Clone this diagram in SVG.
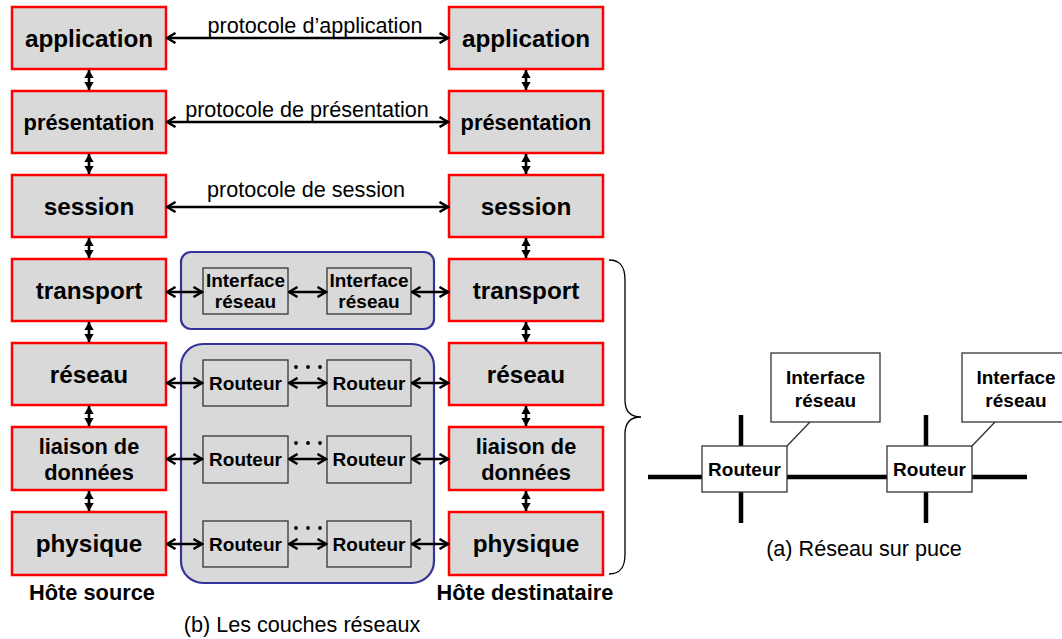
<svg xmlns="http://www.w3.org/2000/svg" width="1062" height="639" viewBox="0 0 1062 639">
  <defs>
    <style>
      .layer { fill: #d9d9d9; stroke: #ff0000; stroke-width: 2.5; }
      .zone { fill: #d9d9d9; stroke: #333399; stroke-width: 2.2; }
      .unit { fill: #d9d9d9; stroke: #333333; stroke-width: 1.3; }
      .unitw { fill: #ffffff; stroke: #333333; stroke-width: 1.3; }
      .lbl { font-family: "Liberation Sans", Arial, sans-serif; font-weight: bold; fill: #000; text-anchor: middle; }
      .big { font-size: 24.3px; }
      .mid { font-size: 21.8px; }
      .sm { font-size: 19px; }
      .cap { font-family: "Liberation Sans", Arial, sans-serif; font-size: 21.6px; fill: #000; text-anchor: middle; }
      .dbl { stroke: #000; stroke-width: 2.6; fill: none; marker-start: url(#chev); marker-end: url(#chev); }
      .vdbl { stroke: #000; stroke-width: 2.6; fill: none; marker-start: url(#tri); marker-end: url(#tri); }
      .wire { stroke: #000; stroke-width: 4.5; fill: none; }
      .lead { stroke: #333333; stroke-width: 1.3; fill: none; }
    </style>
    <marker id="chev" markerUnits="userSpaceOnUse" viewBox="0 0 12 12" markerWidth="12" markerHeight="12" refX="10.5" refY="6" orient="auto-start-reverse">
      <path d="M2,1 L10.5,6 L2,11" fill="none" stroke="#000" stroke-width="2.5"/>
    </marker>
    <marker id="tri" markerUnits="userSpaceOnUse" viewBox="0 0 8 10" markerWidth="8" markerHeight="10" refX="8" refY="5" orient="auto-start-reverse">
      <path d="M0,0.3 L8,5 L0,9.7 z" fill="#000"/>
    </marker>
  </defs>

  <!-- network zones -->
  <g id="zone-interfaces">
    <rect class="zone" x="181" y="252" width="253" height="77" rx="10"/>
  </g>
  <g id="zone-routeurs">
    <rect class="zone" x="181" y="344" width="253" height="239" rx="22"/>
  </g>

  <!-- source host stack -->
  <g id="src-application"><rect class="layer" x="12" y="7" width="154" height="62"/><text class="lbl big" x="89" y="47">application</text></g>
  <g id="src-presentation"><rect class="layer" x="12" y="91" width="154" height="62"/><text class="lbl mid" x="89" y="130">présentation</text></g>
  <g id="src-session"><rect class="layer" x="12" y="175" width="154" height="62"/><text class="lbl big" x="89" y="215">session</text></g>
  <g id="src-transport"><rect class="layer" x="12" y="259" width="154" height="62"/><text class="lbl big" x="89" y="299">transport</text></g>
  <g id="src-reseau"><rect class="layer" x="12" y="343" width="154" height="62"/><text class="lbl big" x="89" y="383">réseau</text></g>
  <g id="src-liaison"><rect class="layer" x="12" y="427" width="154" height="63"/><text class="lbl mid" x="89" y="454">liaison de</text><text class="lbl mid" x="89" y="480">données</text></g>
  <g id="src-physique"><rect class="layer" x="12" y="512" width="154" height="63"/><text class="lbl big" x="89" y="552">physique</text></g>

  <!-- destination host stack -->
  <g id="dst-application"><rect class="layer" x="449" y="7" width="154" height="62"/><text class="lbl big" x="526" y="47">application</text></g>
  <g id="dst-presentation"><rect class="layer" x="449" y="91" width="154" height="62"/><text class="lbl mid" x="526" y="130">présentation</text></g>
  <g id="dst-session"><rect class="layer" x="449" y="175" width="154" height="62"/><text class="lbl big" x="526" y="215">session</text></g>
  <g id="dst-transport"><rect class="layer" x="449" y="259" width="154" height="62"/><text class="lbl big" x="526" y="299">transport</text></g>
  <g id="dst-reseau"><rect class="layer" x="449" y="343" width="154" height="62"/><text class="lbl big" x="526" y="383">réseau</text></g>
  <g id="dst-liaison"><rect class="layer" x="449" y="427" width="154" height="63"/><text class="lbl mid" x="526" y="454">liaison de</text><text class="lbl mid" x="526" y="480">données</text></g>
  <g id="dst-physique"><rect class="layer" x="449" y="512" width="154" height="63"/><text class="lbl big" x="526" y="552">physique</text></g>

  <!-- interfaces and routers -->
  <g id="if-1"><rect class="unit" x="203" y="268" width="85" height="46"/><text class="lbl sm" x="245.5" y="287">Interface</text><text class="lbl sm" x="245.5" y="308">réseau</text></g>
  <g id="if-2"><rect class="unit" x="327" y="268" width="84" height="46"/><text class="lbl sm" x="369" y="287">Interface</text><text class="lbl sm" x="369" y="308">réseau</text></g>
  <g id="rt-1a"><rect class="unit" x="203" y="360" width="85" height="46"/><text class="lbl sm" x="245.5" y="390">Routeur</text></g>
  <g id="rt-1b"><rect class="unit" x="327" y="360" width="84" height="46"/><text class="lbl sm" x="369" y="390">Routeur</text></g>
  <g id="rt-2a"><rect class="unit" x="203" y="436" width="85" height="47"/><text class="lbl sm" x="245.5" y="466">Routeur</text></g>
  <g id="rt-2b"><rect class="unit" x="327" y="436" width="84" height="47"/><text class="lbl sm" x="369" y="466">Routeur</text></g>
  <g id="rt-3a"><rect class="unit" x="203" y="521" width="85" height="46"/><text class="lbl sm" x="245.5" y="551">Routeur</text></g>
  <g id="rt-3b"><rect class="unit" x="327" y="521" width="84" height="46"/><text class="lbl sm" x="369" y="551">Routeur</text></g>

  <!-- ellipsis dots between routers -->
  <g id="dots" fill="#000">
    <circle cx="296" cy="367" r="1.9"/><circle cx="308" cy="367" r="1.9"/><circle cx="320" cy="367" r="1.9"/>
    <circle cx="296" cy="443" r="1.9"/><circle cx="308" cy="443" r="1.9"/><circle cx="320" cy="443" r="1.9"/>
    <circle cx="296" cy="528" r="1.9"/><circle cx="308" cy="528" r="1.9"/><circle cx="320" cy="528" r="1.9"/>
  </g>

  <!-- connectors -->
  <g id="connectors">
    <line class="dbl" x1="167" y1="38" x2="448" y2="38"/>
    <line class="dbl" x1="167" y1="122" x2="448" y2="122"/>
    <line class="dbl" x1="167" y1="207" x2="448" y2="207"/>

    <line class="vdbl" x1="89" y1="70" x2="89" y2="90"/>
    <line class="vdbl" x1="89" y1="154" x2="89" y2="174"/>
    <line class="vdbl" x1="89" y1="238" x2="89" y2="258"/>
    <line class="vdbl" x1="89" y1="322" x2="89" y2="342"/>
    <line class="vdbl" x1="89" y1="406" x2="89" y2="426"/>
    <line class="vdbl" x1="89" y1="491" x2="89" y2="511"/>
    <line class="vdbl" x1="526" y1="70" x2="526" y2="90"/>
    <line class="vdbl" x1="526" y1="154" x2="526" y2="174"/>
    <line class="vdbl" x1="526" y1="238" x2="526" y2="258"/>
    <line class="vdbl" x1="526" y1="322" x2="526" y2="342"/>
    <line class="vdbl" x1="526" y1="406" x2="526" y2="426"/>
    <line class="vdbl" x1="526" y1="491" x2="526" y2="511"/>

    <line class="dbl" x1="167" y1="292" x2="202" y2="292"/>
    <line class="dbl" x1="289" y1="292" x2="326" y2="292"/>
    <line class="dbl" x1="412" y1="292" x2="448" y2="292"/>
    <line class="dbl" x1="167" y1="383" x2="202" y2="383"/>
    <line class="dbl" x1="289" y1="383" x2="326" y2="383"/>
    <line class="dbl" x1="412" y1="383" x2="448" y2="383"/>
    <line class="dbl" x1="167" y1="459" x2="202" y2="459"/>
    <line class="dbl" x1="289" y1="459" x2="326" y2="459"/>
    <line class="dbl" x1="412" y1="459" x2="448" y2="459"/>
    <line class="dbl" x1="167" y1="544" x2="202" y2="544"/>
    <line class="dbl" x1="289" y1="544" x2="326" y2="544"/>
    <line class="dbl" x1="412" y1="544" x2="448" y2="544"/>
  </g>

  <!-- protocol labels -->
  <text class="cap" x="315" y="33">protocole d’application</text>
  <text class="cap" x="307" y="117">protocole de présentation</text>
  <text class="cap" x="306" y="197">protocole de session</text>

  <!-- host and figure captions -->
  <text class="lbl mid" x="92" y="600">Hôte source</text>
  <text class="lbl mid" x="525" y="600">Hôte destinataire</text>
  <text class="cap" x="302" y="632">(b) Les couches réseaux</text>

  <!-- brace grouping the lower layers -->
  <path d="M609,260 C620,260 625,266 625,280 L625,400 C625,411 630,417 641,417 C630,417 625,423 625,434 L625,554 C625,568 620,574 609,574" fill="none" stroke="#000" stroke-width="1.3"/>

  <!-- network on chip -->
  <g id="noc-wires">
    <line class="wire" x1="648" y1="477" x2="1027" y2="477"/>
    <line class="wire" x1="741" y1="415" x2="741" y2="523"/>
    <line class="wire" x1="926" y1="415" x2="926" y2="523"/>
    <line class="lead" x1="810" y1="422" x2="787" y2="446"/>
    <line class="lead" x1="995" y1="422" x2="972" y2="446"/>
  </g>
  <g id="noc-rt-1"><rect class="unitw" x="702" y="446" width="85" height="46"/><text class="lbl sm" x="744.5" y="476">Routeur</text></g>
  <g id="noc-rt-2"><rect class="unitw" x="887" y="446" width="85" height="46"/><text class="lbl sm" x="929.5" y="476">Routeur</text></g>
  <g id="noc-if-1"><rect class="unitw" x="771" y="353" width="109" height="69"/><text class="lbl sm" x="825.5" y="384">Interface</text><text class="lbl sm" x="825.5" y="407">réseau</text></g>
  <g id="noc-if-2"><rect class="unitw" x="962" y="353" width="109" height="69"/><text class="lbl sm" x="1016" y="384">Interface</text><text class="lbl sm" x="1016" y="407">réseau</text></g>
  <text class="cap" x="864" y="556">(a) Réseau sur puce</text>
</svg>
